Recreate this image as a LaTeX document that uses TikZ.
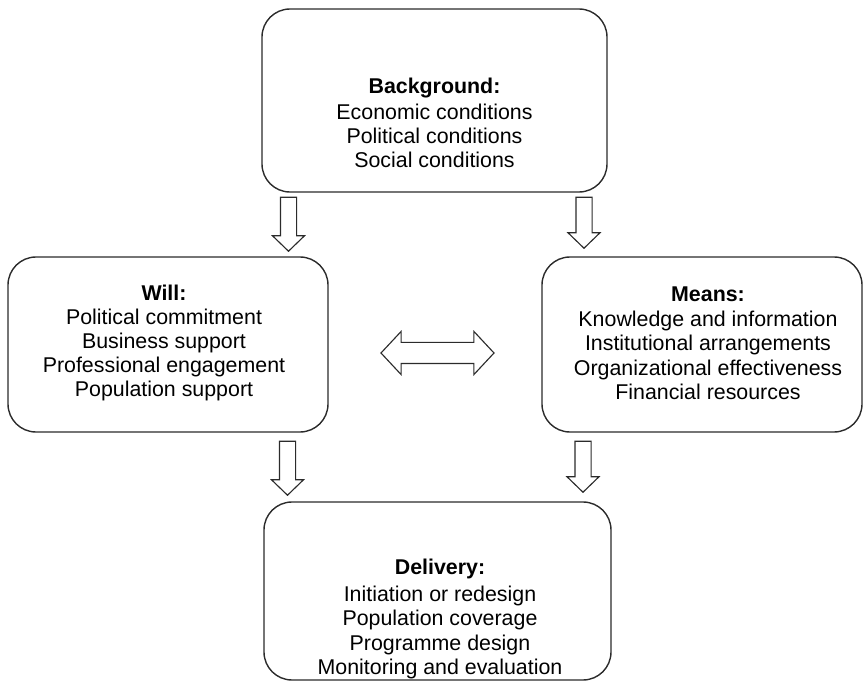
\documentclass[tikz,border=0pt]{standalone}
\usepackage{fontspec}
\setmainfont{Liberation Sans}
\usepackage{tikz}
\usetikzlibrary{
  shapes,
  shapes.arrows,
  positioning,
  calc
}
\definecolor{dfLine}{HTML}{2B2B2B}
\newcommand{\pxu}{0.025cm}
\tikzset{
  dfbox/.style={
    draw=dfLine, line width=1pt, rounded corners=28*\pxu, fill=white
  },
  dftext/.style={
    align=center, inner sep=0pt, font=\fontsize{15.2}{17.2}\selectfont
  },
  downarrow/.style={
    single arrow, draw=dfLine, line width=0.8pt, fill=white, rotate=-90,
    inner xsep=0pt, inner ysep=7.5*\pxu, minimum height=54*\pxu,
    single arrow head extend=8*\pxu, single arrow tip angle=92, anchor=tip
  },
  twoarrow/.style={
    double arrow, draw=dfLine, line width=0.8pt, fill=white,
    inner xsep=0pt, inner ysep=10*\pxu, minimum height=113*\pxu,
    double arrow head extend=11*\pxu, double arrow tip angle=94
  }
}
\begin{document}
\begin{tikzpicture}[x=\pxu, y=-\pxu]
  \useasboundingbox (0,0) rectangle (864,682);
  % boxes
  \node[dfbox, minimum width=345*\pxu, minimum height=183*\pxu] (bg) at (434.5,100.5) {};
  \node[dfbox, minimum width=320*\pxu, minimum height=175*\pxu] (will) at (168,344.5) {};
  \node[dfbox, minimum width=320*\pxu, minimum height=175*\pxu] (means) at (702,344.5) {};
  \node[dfbox, minimum width=347*\pxu, minimum height=178*\pxu] (deliv) at (437.5,591) {};
  % texts
  \node[dftext] (bgtext) at (434.5,123) {\textbf{Background:}\\[1pt]
    Economic conditions\\Political conditions\\Social conditions};
  \node[dftext] (willtext) at (164,343) {\textbf{Will:}\\Political commitment\\
    Business support\\Professional engagement\\Population support};
  \node[dftext] (meanstext) at (708,343) {\textbf{Means:}\\[1pt]Knowledge and information\\
    Institutional arrangements\\Organizational effectiveness\\Financial resources};
  \node[dftext] (delivtext) at (440,619) {\textbf{Delivery:}\\[2pt]Initiation or redesign\\
    Population coverage\\Programme design\\Monitoring and evaluation};
  % arrows
  \node[downarrow] (a1) at (288.5,252) {};
  \node[downarrow, minimum height=51*\pxu] (a2) at (584,249) {};
  \node[downarrow] (a3) at (287.5,496) {};
  \node[downarrow, minimum height=51*\pxu] (a4) at (583,493) {};
  \node[twoarrow] (a5) at (437.5,353) {};
\end{tikzpicture}
\end{document}
